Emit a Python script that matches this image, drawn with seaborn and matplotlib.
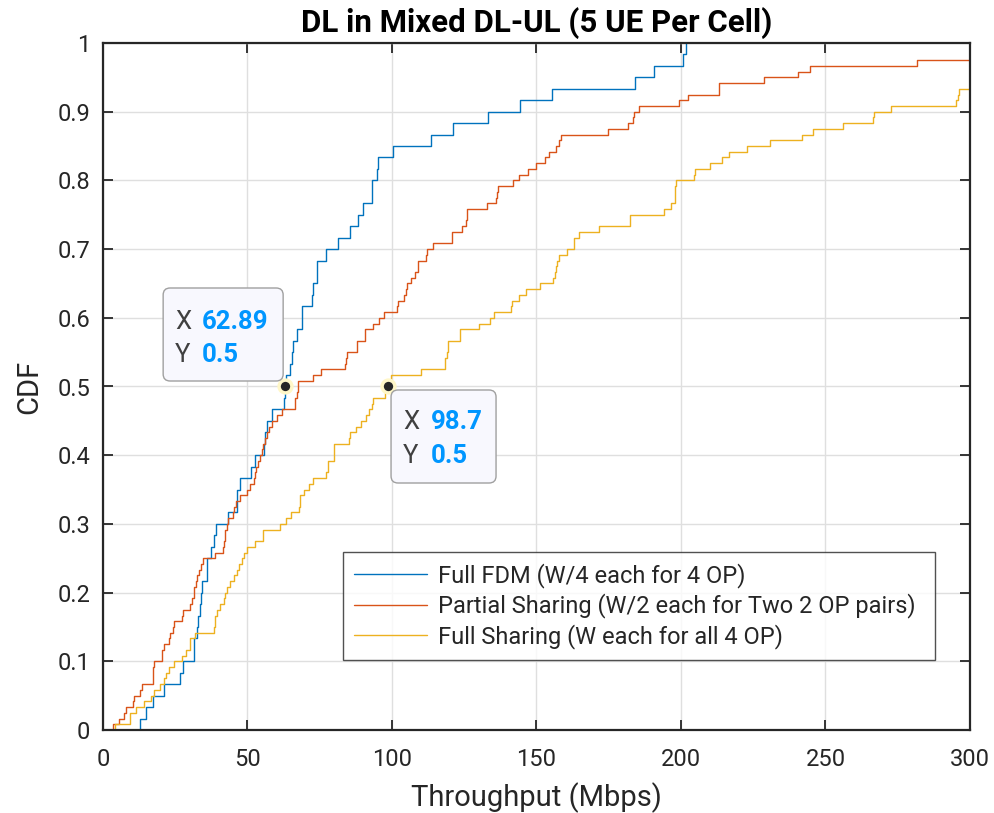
import numpy as np
import pandas as pd
import seaborn as sns
import matplotlib
matplotlib.use("Agg")
import matplotlib.pyplot as plt
from matplotlib.patches import FancyBboxPatch
from matplotlib.transforms import IdentityTransform

# ---- data: per-UE throughput samples (Mbps) read from the CDF steps ----
full_fdm = [12.7, 14.9, 17.2, 21.0, 26.5, 27.7, 31.6, 31.6, 32.4, 33.0,
            33.6, 34.0, 34.2, 36.0, 36.0, 37.5, 38.5, 39.2, 43.4, 46.3,
            46.5, 47.5, 51.2, 52.7, 55.8, 56.1, 56.7, 58.4, 62.5, 62.89,
            63.3, 64.8, 65.3, 65.7, 67.3, 68.8, 68.8, 72.3, 72.6, 74.2,
            74.2, 77.2, 81.2, 85.5, 88.4, 90.1, 93.0, 93.0, 94.7, 95.3,
            100.5, 113.4, 121.0, 133.3, 144.2, 155.4, 184.0, 190.6, 200.7, 201.8]

partial_sharing = [3.5, 5.4, 7.4, 8.1, 10.3, 10.6, 12.9, 13.5, 17.2, 17.2,
                   17.2, 17.5, 20.4, 20.4, 21.0, 22.7, 23.1, 24.2, 24.4, 27.3,
                   27.7, 30.2, 30.8, 31.4, 31.6, 32.3, 32.5, 33.3, 33.9, 34.7,
                   38.6, 41.5, 41.8, 42.1, 42.3, 42.9, 43.4, 45.0, 45.5, 46.0,
                   47.5, 49.8, 51.0, 52.3, 52.6, 53.0, 53.5, 54.4, 55.0, 55.5,
                   56.1, 56.7, 57.5, 58.4, 60.2, 61.9, 66.5, 66.5, 67.1, 67.6,
                   67.6, 72.6, 75.5, 83.8, 84.1, 84.3, 87.8, 88.0, 90.7, 90.7,
                   93.5, 95.6, 97.2, 101.8, 102.2, 104.1, 104.8, 105.1, 106.5, 107.9,
                   109.1, 109.1, 111.7, 112.0, 114.3, 120.6, 120.6, 124.1, 125.6, 126.0,
                   126.0, 132.7, 135.9, 136.2, 136.7, 142.0, 144.0, 147.1, 150.0, 153.1,
                   154.3, 156.6, 157.7, 158.6, 174.6, 181.7, 183.4, 183.7, 185.3, 199.2,
                   202.3, 213.3, 213.3, 228.6, 240.4, 244.7, 281.5, 318.0, 342.0, 376.0]

full_sharing = [4.3, 9.2, 9.5, 11.5, 14.3, 16.6, 17.5, 19.6, 21.2, 21.9,
                22.7, 24.7, 27.3, 28.8, 30.0, 30.2, 31.9, 38.3, 38.6, 38.8,
                39.6, 40.6, 41.7, 42.3, 42.9, 44.0, 45.2, 46.3, 47.2, 48.1,
                48.9, 49.8, 52.5, 55.3, 55.5, 61.1, 63.4, 65.0, 67.9, 68.0,
                68.2, 69.6, 71.4, 72.5, 77.2, 77.7, 78.0, 80.0, 80.0, 80.0,
                85.1, 85.5, 87.6, 89.2, 90.9, 92.1, 93.2, 93.5, 97.6, 98.7,
                99.2, 99.5, 109.9, 118.3, 118.3, 118.9, 119.5, 119.5, 123.7, 123.7,
                130.1, 133.9, 135.2, 141.1, 141.4, 144.0, 146.2, 151.1, 155.7, 156.3,
                156.7, 157.1, 157.8, 160.4, 163.1, 163.1, 164.6, 171.5, 182.5, 182.5,
                194.0, 196.4, 197.8, 198.0, 198.0, 198.4, 204.6, 204.8, 210.1, 214.1,
                216.5, 222.8, 230.8, 241.8, 245.8, 256.2, 266.3, 266.9, 272.5, 295.1,
                295.7, 296.3, 305.0, 312.0, 320.0, 330.0, 342.0, 355.0, 370.0, 390.0]

series_labels = ["Full FDM (W/4 each for 4 OP)",
                 "Partial Sharing (W/2 each for Two 2 OP pairs)",
                 "Full Sharing (W each for all 4 OP)"]
series_colors = ["#0072BD", "#D95319", "#EDB120"]

x_ticks = [0, 50, 100, 150, 200, 250, 300]
y_ticks = [0, 0.1, 0.2, 0.3, 0.4, 0.5, 0.6, 0.7, 0.8, 0.9, 1]
y_tick_labels = ["0", "0.1", "0.2", "0.3", "0.4", "0.5", "0.6", "0.7", "0.8", "0.9", "1"]

tip_x = [62.89, 98.7]
tip_y = [0.5, 0.5]
tip_x_text = ["62.89", "98.7"]
tip_y_text = ["0.5", "0.5"]

title = "DL in Mixed DL-UL (5 UE Per Cell)"
x_label = "Throughput (Mbps)"
y_label = "CDF"

# ---- style ----
sns.set_theme(style="white")
plt.rcParams["font.family"] = ["Roboto", "DejaVu Sans"]
dark = "#262626"

fig = plt.figure(figsize=(9.95, 8.13), dpi=100)
ax = fig.add_axes([103 / 995, 1 - 730 / 813, 867 / 995, 687 / 813])

for data, lab, col in zip([full_fdm, partial_sharing, full_sharing], series_labels, series_colors):
    sns.ecdfplot(x=np.array(data), ax=ax, color=col, linewidth=1.0, label=lab)

ax.set_xlim(0, 300)
ax.set_ylim(0, 1)
ax.set_xticks(x_ticks)
ax.set_yticks(y_ticks)
ax.set_yticklabels(y_tick_labels)
ax.grid(True, color="#DFDFDF", linewidth=1.0)
ax.set_axisbelow(True)
for s in ax.spines.values():
    s.set_visible(True)
    s.set_color(dark)
    s.set_linewidth(1.6)
ax.tick_params(direction="in", length=7, width=1.3, colors=dark, labelsize=17,
               top=True, right=True, bottom=True, left=True)
ax.tick_params(axis="x", pad=13)
ax.tick_params(axis="y", pad=9)
ax.set_title(title, fontsize=22.5, fontweight="bold", color="black", pad=8)
ax.set_xlabel(x_label, fontsize=21, color=dark, labelpad=8)
ax.set_ylabel(y_label, fontsize=21, color=dark, labelpad=10)

leg = ax.legend(loc="lower left", bbox_to_anchor=(0.277, 0.102, 0.683, 0.156),
                mode="expand", borderaxespad=0, fontsize=17, frameon=True,
                fancybox=False, handlelength=3.1, handletextpad=0.45,
                labelspacing=0.25, borderpad=0.45)
leg.get_frame().set_edgecolor(dark)
leg.get_frame().set_linewidth(1.0)
for t in leg.get_texts():
    t.set_color(dark)

# data tips
ax.scatter(tip_x, tip_y, s=85, color=dark, edgecolor="#FFF7C8", linewidth=2.5, zorder=6)

fig.canvas.draw()
ident = IdentityTransform()
box_specs = [  # (dx0, dx1, dy0, dy1) in display px relative to the point
    (-121.6, -1.6, 5.5, 98.5),
    (2.8, 107.8, -96.5, -3.5),
]
text_specs = [  # (label dx, value dx, X row dy, Y row dy)
    (-109.6, -82.6, 64.5, 31.5),
    (14.8, 42.8, -35.5, -69.5),
]
for i in range(2):
    px, py = ax.transData.transform((tip_x[i], tip_y[i]))
    dx0, dx1, dy0, dy1 = box_specs[i]
    patch = FancyBboxPatch((px + dx0, py + dy0), dx1 - dx0, dy1 - dy0,
                           boxstyle="round,pad=0,rounding_size=7",
                           transform=ident, facecolor="#F8F8FE",
                           edgecolor="#A0A0A0", linewidth=1.0, zorder=7)
    fig.add_artist(patch)
    lx, vx, yx, yy = text_specs[i]
    fig.text(px + lx, py + yx, "X", transform=ident, fontsize=18.5, color="#404040",
             va="center", ha="left", zorder=8)
    fig.text(px + vx, py + yx, tip_x_text[i], transform=ident, fontsize=18.5,
             color="#0096FF", fontweight="bold", va="center", ha="left", zorder=8)
    fig.text(px + lx, py + yy, "Y", transform=ident, fontsize=18.5, color="#404040",
             va="center", ha="left", zorder=8)
    fig.text(px + vx, py + yy, tip_y_text[i], transform=ident, fontsize=18.5,
             color="#0096FF", fontweight="bold", va="center", ha="left", zorder=8)

fig.savefig("out.png", dpi=100)
